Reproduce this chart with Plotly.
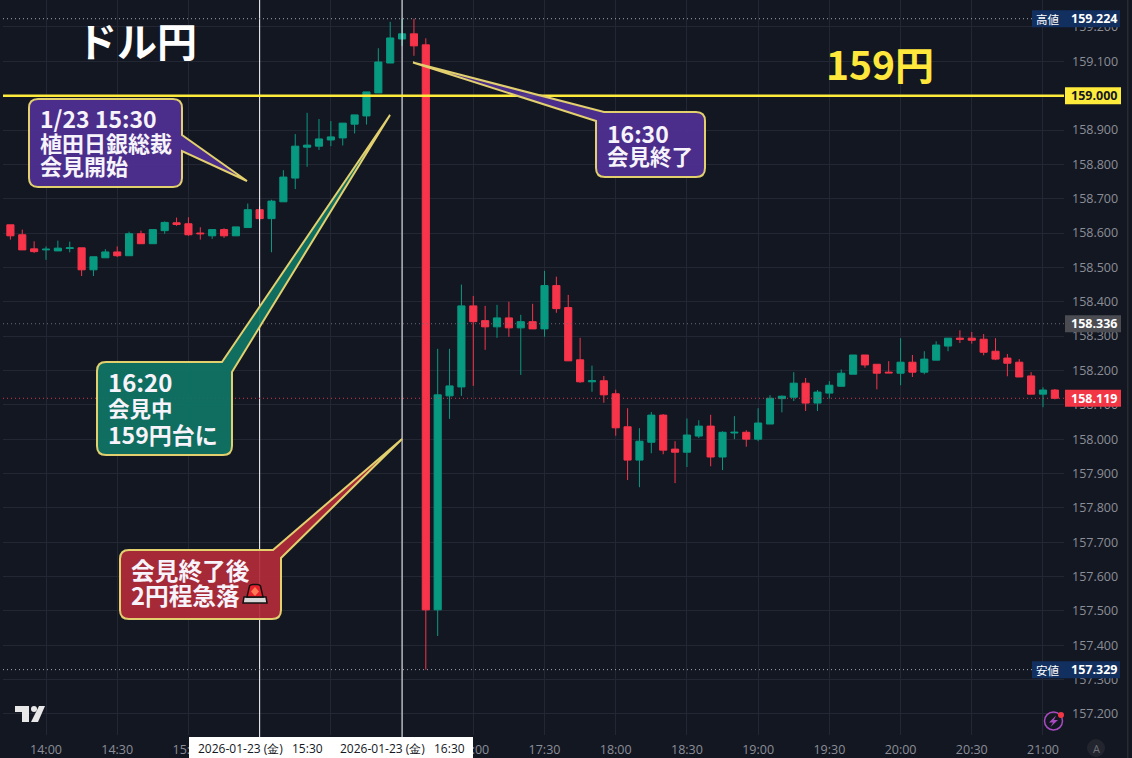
import plotly.graph_objects as go

# USD/JPY 5 minute candles, 2026-01-23
day = "2026-01-23"
times = ["13:45", "13:50", "13:55", "14:00", "14:05", "14:10", "14:15", "14:20", "14:25", "14:30",
         "14:35", "14:40", "14:45", "14:50", "14:55", "15:00", "15:05", "15:10", "15:15", "15:20",
         "15:25", "15:30", "15:35", "15:40", "15:45", "15:50", "15:55", "16:00", "16:05", "16:10",
         "16:15", "16:20", "16:25", "16:30", "16:35", "16:40", "16:45", "16:50", "16:55", "17:00",
         "17:05", "17:10", "17:15", "17:20", "17:25", "17:30", "17:35", "17:40", "17:45", "17:50",
         "17:55", "18:00", "18:05", "18:10", "18:15", "18:20", "18:25", "18:30", "18:35", "18:40",
         "18:45", "18:50", "18:55", "19:00", "19:05", "19:10", "19:15", "19:20", "19:25", "19:30",
         "19:35", "19:40", "19:45", "19:50", "19:55", "20:00", "20:05", "20:10", "20:15", "20:20",
         "20:25", "20:30", "20:35", "20:40", "20:45", "20:50", "20:55", "21:00", "21:05"]

opens = [158.624, 158.595, 158.554, 158.551, 158.548, 158.555, 158.557, 158.493, 158.528, 158.545,
         158.534, 158.598, 158.569, 158.607, 158.630, 158.627, 158.600, 158.592, 158.610, 158.592,
         158.616, 158.668, 158.642, 158.691, 158.760, 158.850, 158.853, 158.871, 158.877, 158.917,
         158.941, 159.008, 159.095, 159.165, 159.180, 159.148, 157.503, 158.126, 158.152, 158.388,
         158.345, 158.327, 158.353, 158.324, 158.342, 158.321, 158.447, 158.383, 158.231, 158.167,
         158.170, 158.132, 158.036, 157.939, 157.991, 158.070, 157.971, 157.962, 158.009, 158.038,
         157.948, 158.018, 158.020, 158.000, 158.044, 158.118, 158.122, 158.163, 158.105, 158.134,
         158.154, 158.189, 158.245, 158.218, 158.195, 158.192, 158.224, 158.195, 158.230, 158.271,
         158.294, 158.294, 158.291, 158.256, 158.236, 158.224, 158.184, 158.131, 158.143]
highs = [158.624, 158.610, 158.576, 158.561, 158.578, 158.575, 158.557, 158.531, 158.553, 158.561,
         158.604, 158.607, 158.610, 158.634, 158.645, 158.646, 158.617, 158.610, 158.614, 158.618,
         158.686, 158.678, 158.697, 158.783, 158.888, 158.950, 158.932, 158.926, 158.920, 158.944,
         159.011, 159.138, 159.215, 159.224, 159.224, 159.167, 158.263, 158.263, 158.450, 158.417,
         158.388, 158.391, 158.400, 158.362, 158.394, 158.490, 158.473, 158.420, 158.295, 158.214,
         158.184, 158.144, 158.090, 158.032, 158.079, 158.073, 157.994, 158.060, 158.055, 158.071,
         158.023, 158.067, 158.026, 158.090, 158.128, 158.127, 158.195, 158.178, 158.143, 158.169,
         158.203, 158.245, 158.245, 158.218, 158.227, 158.294, 158.245, 158.256, 158.285, 158.294,
         158.317, 158.312, 158.306, 158.294, 158.248, 158.233, 158.195, 158.151, 158.146]
lows = [158.581, 158.551, 158.542, 158.522, 158.548, 158.544, 158.475, 158.475, 158.528, 158.530,
        158.534, 158.569, 158.569, 158.598, 158.621, 158.592, 158.581, 158.583, 158.586, 158.592,
        158.616, 158.636, 158.544, 158.691, 158.728, 158.793, 158.842, 158.853, 158.855, 158.890,
        158.916, 159.008, 159.095, 159.145, 159.116, 157.329, 157.427, 158.059, 158.126, 158.155,
        158.260, 158.295, 158.298, 158.187, 158.321, 158.298, 158.368, 158.228, 158.164, 158.138,
        158.106, 158.010, 157.881, 157.860, 157.959, 157.956, 157.872, 157.919, 158.003, 157.921,
        157.910, 158.000, 157.978, 157.994, 158.044, 158.078, 158.111, 158.082, 158.082, 158.118,
        158.154, 158.189, 158.208, 158.145, 158.193, 158.157, 158.181, 158.189, 158.230, 158.256,
        158.280, 158.278, 158.244, 158.230, 158.183, 158.181, 158.131, 158.093, 158.116]
closes = [158.592, 158.551, 158.546, 158.553, 158.556, 158.557, 158.493, 158.531, 158.545, 158.534,
          158.598, 158.569, 158.610, 158.631, 158.625, 158.595, 158.598, 158.610, 158.592, 158.618,
          158.668, 158.642, 158.693, 158.763, 158.853, 158.856, 158.874, 158.880, 158.920, 158.944,
          159.011, 159.098, 159.168, 159.180, 159.145, 157.503, 158.129, 158.155, 158.388, 158.342,
          158.327, 158.353, 158.324, 158.342, 158.321, 158.447, 158.380, 158.228, 158.167, 158.170,
          158.129, 158.033, 157.939, 157.994, 158.070, 157.968, 157.962, 158.012, 158.038, 157.948,
          158.020, 158.020, 158.000, 158.047, 158.119, 158.125, 158.163, 158.105, 158.137, 158.157,
          158.192, 158.245, 158.216, 158.192, 158.193, 158.224, 158.195, 158.233, 158.274, 158.294,
          158.291, 158.288, 158.253, 158.233, 158.221, 158.181, 158.131, 158.143, 158.119]

day_high = 159.224
day_low = 157.329
level_159 = 159.000
prev_close = 158.336
last_price = 158.119
marked_times = ["15:30", "16:30"]

BG = "#131722"
GRID = "#232733"
TICK = "#8b8e97"
RED = "#f7344a"
GREEN = "#089981"
GOLD = "#e2cf6e"
JP = "Noto Sans CJK JP"
NUM = "Open Sans"

# plot area in page pixels, used to place the drawings
LEFT, RIGHT, BOTTOM = 3, 1064, 735


def px(x):
    return (x - LEFT) / (RIGHT - LEFT)


def py(y):
    return (BOTTOM - y) / BOTTOM


def P(x, y):
    return f"{px(x):.5f},{py(y):.5f}"


def draw_path(points_path, fill, line=None, width=1):
    return dict(type="path", xref="paper", yref="paper", path=points_path, fillcolor=fill,
                line=dict(color=line or "rgba(0,0,0,0)", width=width), layer="above")


def bubble(x0, y0, x1, y1, tail, where, fill, r=9):
    # rounded box, the tail points replace the named corner (or sit on the right edge)
    def pts(lst):
        return " ".join("L" + P(*p) for p in lst)
    s = ""
    if where == "tl":
        s += "M" + P(*tail[0]) + " " + pts(tail[1:])
    else:
        s += "M" + P(x0, y0 + r) + f" Q{P(x0, y0)} {P(x0 + r, y0)}"
    if where == "tr":
        s += " " + pts(tail)
    else:
        s += " L" + P(x1 - r, y0) + f" Q{P(x1, y0)} {P(x1, y0 + r)}"
    if where == "r":
        s += " " + pts(tail)
    s += " L" + P(x1, y1 - r) + f" Q{P(x1, y1)} {P(x1 - r, y1)}"
    s += " L" + P(x0 + r, y1) + f" Q{P(x0, y1)} {P(x0, y1 - r)} Z"
    return draw_path(s, fill, GOLD, 2)


def poly(points, fill, line=None, width=1):
    return draw_path("M" + " L".join(P(*p) for p in points) + " Z", fill, line, width)


def label(x, y, text, size, color="#f6f3fa", family=JP, bold=True, anchor="left"):
    return dict(xref="paper", yref="paper", x=px(x), y=py(y), text=f"<b>{text}</b>" if bold else text,
                showarrow=False, xanchor=anchor, yanchor="middle", align=anchor,
                font=dict(family=family, size=size, color=color))


def dotted(y, color, right=1064):
    return dict(type="line", xref="paper", yref="y", x0=0, x1=px(right), y0=y, y1=y,
                line=dict(color=color, width=1, dash="1px,3px"), layer="above")


def price_box(y, fill, x0=1065, x1=1121):
    return dict(type="rect", xref="paper", yref="y", x0=px(x0), x1=px(x1), ysizemode="pixel",
                yanchor=y, y0=-8.5, y1=8.5, fillcolor=fill, line_width=0, layer="above")


def price_text(y, color="#ffffff"):
    return dict(xref="paper", yref="y", x=px(1094), y=y, text=f"<b>{y:.3f}</b>", showarrow=False,
                xanchor="center", yanchor="middle", font=dict(family=NUM, size=12.5, color=color))


stamps = [f"{day} {t}" for t in times]

fig = go.Figure(go.Candlestick(
    x=stamps, open=opens, high=highs, low=lows, close=closes,
    increasing=dict(line=dict(color=GREEN, width=1), fillcolor=GREEN),
    decreasing=dict(line=dict(color=RED, width=1), fillcolor=RED),
    whiskerwidth=0, showlegend=False, hoverinfo="skip"))

shapes = [
    # crosshair lines
    *[dict(type="line", xref="x", yref="paper", x0=f"{day} {t}", x1=f"{day} {t}", y0=py(737), y1=1,
           line=dict(color="#ffffff", width=1), layer="above") for t in marked_times],
    # price levels
    dotted(day_high, "#a5a8b0", 1032),
    dotted(day_low, "#a5a8b0", 1032),
    dotted(prev_close, "#6a6d76"),
    dotted(last_price, "#d8364c"),
    dict(type="line", xref="paper", yref="y", x0=0, x1=1, y0=level_159, y1=level_159,
         line=dict(color="#ffeb3b", width=2.5), layer="above"),
    # axis side boxes
    price_box(level_159, "#ffeb3b"),
    price_box(prev_close, "#4a4c52"),
    price_box(last_price, "#f23645"),
    price_box(day_high, "#12305f", 1032, 1120),
    price_box(day_low, "#12305f", 1032, 1120),
    # callouts
    bubble(29, 99, 182, 187, [(182, 135), (247, 181), (182, 151)], "r", "rgba(78,47,146,0.95)"),
    bubble(596, 112, 705, 177, [(596, 121), (413, 62.5), (604, 112)], "tl", "rgba(78,47,146,0.95)"),
    bubble(97, 362, 232, 455, [(222, 362), (390, 115), (232, 372)], "tr", "rgba(15,115,100,0.95)"),
    bubble(120, 550, 281, 619, [(273, 550), (402, 439), (281, 558)], "tr", "rgba(178,43,57,0.93)"),
    # siren icon
    poly([(244, 597), (266, 597), (267, 603), (243, 603)], "#d8d8d8", "#111111", 1.5),
    draw_path("M" + P(247, 597) + " L" + P(249.5, 586) + f" Q{P(250.5, 584.5)} {P(253, 584.5)}"
              + " L" + P(257, 584.5) + f" Q{P(259.5, 584.5)} {P(260.5, 586)}" + " L" + P(263, 597) + " Z",
              "#e8202c", "#111111", 1.5),
    poly([(255, 587), (259, 591.5), (255, 596), (251, 591.5)], "#ff7a55"),
    # time axis labels
    dict(type="rect", xref="paper", yref="paper", x0=px(189), x1=px(473), y0=py(737), y1=py(758),
         fillcolor="#ffffff", line_width=0, layer="above"),
    # TradingView mark
    poly([(15, 706), (29, 706), (29, 722), (22, 722), (22, 712), (15, 712)], "#e8e8e8"),
    poly([(39, 706), (45, 706), (38, 722), (31, 722)], "#e8e8e8"),
    dict(type="circle", xref="paper", yref="paper", x0=px(31), x1=px(37), y0=py(712), y1=py(706),
         fillcolor="#e8e8e8", line_width=0, layer="above"),
    # bolt button
    dict(type="circle", xref="paper", yref="paper", x0=px(1044.5), x1=px(1062.5), y0=py(730), y1=py(712),
         fillcolor="rgba(0,0,0,0)", line=dict(color="#a94bc0", width=1.5), layer="above"),
    poly([(1056, 715.5), (1049, 722.5), (1053, 722.5), (1050.5, 727), (1058, 720), (1054, 720)], "#a94bc0"),
    dict(type="circle", xref="paper", yref="paper", x0=px(1058), x1=px(1064), y0=py(718), y1=py(712),
         fillcolor="#f23645", line_width=0, layer="above"),
    # auto button
    dict(type="circle", xref="paper", yref="paper", x0=px(1087), x1=px(1105), y0=py(757), y1=py(739),
         fillcolor="#22252e", line_width=0, layer="above"),
    # window edge
    dict(type="rect", xref="paper", yref="paper", x0=px(1127), x1=px(1128.5), y0=py(758), y1=py(0),
         fillcolor="#2a2b30", line_width=0, layer="above"),
]

annotations = [
    label(75, 40, "ドル円", 40, "#ffffff"),
    label(824, 63, "159円", 39, "#ffe73b"),
    label(38, 118, "1/23 15:30", 23),
    label(38, 142, "植田日銀総裁", 22),
    label(38, 165, "会見開始", 22),
    label(605, 133, "16:30", 23),
    label(605, 155, "会見終了", 21.5),
    label(106, 381, "16:20", 24),
    label(106, 407, "会見中", 21.5),
    label(106, 434, "159円台に", 23),
    label(129, 570, "会見終了後", 23.7),
    label(129, 595, "2円程急落", 23.7),
    label(196, 748, f"{day} (金)", 12, "#131722", NUM, False),
    label(290, 748, marked_times[0], 12, "#131722", NUM, False),
    label(338, 748, f"{day} (金)", 12, "#131722", NUM, False),
    label(432, 748, marked_times[1], 12, "#131722", NUM, False),
    label(1096, 748, "A", 11, "#6d7078", NUM, False, "center"),
    label(1048, 19.5, "高値", 11.5, "#ffffff", JP, False, "center"),
    label(1048, 669.5, "安値", 11.5, "#ffffff", JP, False, "center"),
    price_text(day_high),
    price_text(day_low),
    price_text(level_159, "#131722"),
    price_text(prev_close),
    price_text(last_price),
]

fig.update_layout(
    width=1132, height=758, autosize=False,
    margin=dict(l=LEFT, r=1132 - RIGHT, t=0, b=758 - BOTTOM, pad=0),
    paper_bgcolor=BG, plot_bgcolor=BG, boxgap=0.14,
    shapes=shapes, annotations=annotations,
    xaxis=dict(type="date", range=[f"{day} 13:41:53", f"{day} 21:08:51"], rangeslider_visible=False,
               tick0=f"{day} 14:00", dtick=1800000, tickformat="%H:%M", showgrid=True, gridcolor=GRID,
               gridwidth=1, zeroline=False, showline=False, ticks="", ticklabelstandoff=5,
               tickfont=dict(family=NUM, size=12.5, color=TICK)),
    yaxis=dict(side="right", range=[157.1387, 159.2785], tick0=157.2, dtick=0.1, tickformat=".3f",
               showgrid=True, gridcolor=GRID, gridwidth=1, zeroline=False, showline=False, ticks="",
               ticklabelstandoff=7, tickfont=dict(family=NUM, size=12.5, color=TICK)),
)

fig.write_html("out.html", config=dict(displayModeBar=False),
               post_script="document.body.style.margin='0';document.body.style.overflow='hidden';")
